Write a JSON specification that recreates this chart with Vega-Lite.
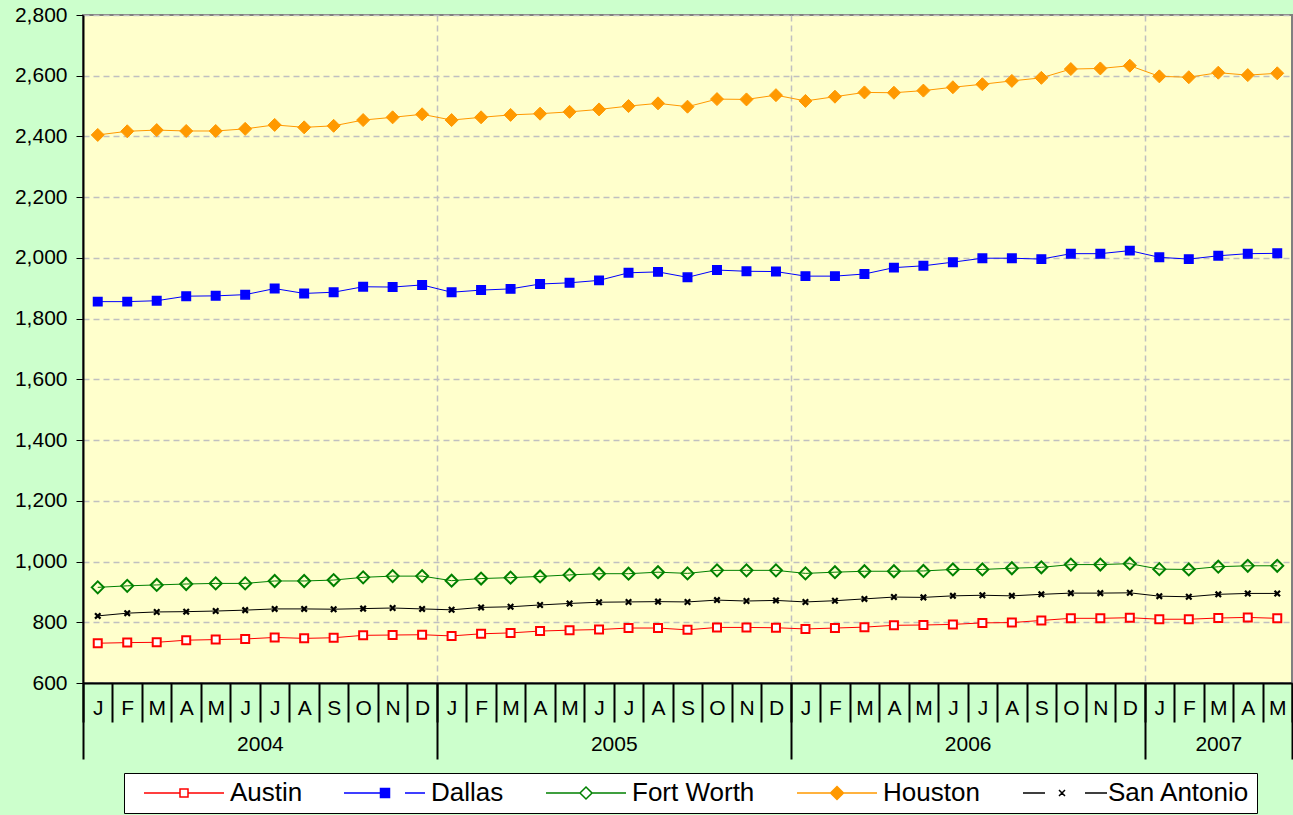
{
  "$schema": "https://vega.github.io/schema/vega-lite/v6.json",
  "width": 1209,
  "height": 668,
  "autosize": "none",
  "padding": {"left": 83, "top": 15, "right": 1, "bottom": 132},
  "background": "#CCFFCC",
  "config": {
    "font": "Liberation Sans",
    "view": {"fill": "#FFFFCC", "stroke": "#808080", "strokeWidth": 2},
    "axis": {"labelFont": "Liberation Sans", "labelFontSize": 21, "labelColor": "#000000"}
  },
  "data": {
    "values": [
      {"month":"2004-01","city":"Austin","value":731},{"month":"2004-02","city":"Austin","value":733},{"month":"2004-03","city":"Austin","value":734},{"month":"2004-04","city":"Austin","value":741},{"month":"2004-05","city":"Austin","value":743},{"month":"2004-06","city":"Austin","value":745},{"month":"2004-07","city":"Austin","value":750},{"month":"2004-08","city":"Austin","value":747},{"month":"2004-09","city":"Austin","value":749},{"month":"2004-10","city":"Austin","value":757},{"month":"2004-11","city":"Austin","value":758},{"month":"2004-12","city":"Austin","value":759},
      {"month":"2005-01","city":"Austin","value":755},{"month":"2005-02","city":"Austin","value":762},{"month":"2005-03","city":"Austin","value":765},{"month":"2005-04","city":"Austin","value":771},{"month":"2005-05","city":"Austin","value":774},{"month":"2005-06","city":"Austin","value":776},{"month":"2005-07","city":"Austin","value":781},{"month":"2005-08","city":"Austin","value":781},{"month":"2005-09","city":"Austin","value":775},{"month":"2005-10","city":"Austin","value":783},{"month":"2005-11","city":"Austin","value":783},{"month":"2005-12","city":"Austin","value":782},
      {"month":"2006-01","city":"Austin","value":778},{"month":"2006-02","city":"Austin","value":781},{"month":"2006-03","city":"Austin","value":784},{"month":"2006-04","city":"Austin","value":790},{"month":"2006-05","city":"Austin","value":791},{"month":"2006-06","city":"Austin","value":793},{"month":"2006-07","city":"Austin","value":798},{"month":"2006-08","city":"Austin","value":799},{"month":"2006-09","city":"Austin","value":806},{"month":"2006-10","city":"Austin","value":813},{"month":"2006-11","city":"Austin","value":813},{"month":"2006-12","city":"Austin","value":815},
      {"month":"2007-01","city":"Austin","value":810},{"month":"2007-02","city":"Austin","value":810},{"month":"2007-03","city":"Austin","value":814},{"month":"2007-04","city":"Austin","value":816},{"month":"2007-05","city":"Austin","value":813},
      {"month":"2004-01","city":"Dallas","value":1856},{"month":"2004-02","city":"Dallas","value":1856},{"month":"2004-03","city":"Dallas","value":1859},{"month":"2004-04","city":"Dallas","value":1874},{"month":"2004-05","city":"Dallas","value":1875},{"month":"2004-06","city":"Dallas","value":1879},{"month":"2004-07","city":"Dallas","value":1899},{"month":"2004-08","city":"Dallas","value":1883},{"month":"2004-09","city":"Dallas","value":1887},{"month":"2004-10","city":"Dallas","value":1905},{"month":"2004-11","city":"Dallas","value":1904},{"month":"2004-12","city":"Dallas","value":1911},
      {"month":"2005-01","city":"Dallas","value":1887},{"month":"2005-02","city":"Dallas","value":1894},{"month":"2005-03","city":"Dallas","value":1898},{"month":"2005-04","city":"Dallas","value":1914},{"month":"2005-05","city":"Dallas","value":1918},{"month":"2005-06","city":"Dallas","value":1926},{"month":"2005-07","city":"Dallas","value":1951},{"month":"2005-08","city":"Dallas","value":1954},{"month":"2005-09","city":"Dallas","value":1936},{"month":"2005-10","city":"Dallas","value":1960},{"month":"2005-11","city":"Dallas","value":1956},{"month":"2005-12","city":"Dallas","value":1955},
      {"month":"2006-01","city":"Dallas","value":1940},{"month":"2006-02","city":"Dallas","value":1940},{"month":"2006-03","city":"Dallas","value":1947},{"month":"2006-04","city":"Dallas","value":1968},{"month":"2006-05","city":"Dallas","value":1974},{"month":"2006-06","city":"Dallas","value":1986},{"month":"2006-07","city":"Dallas","value":1999},{"month":"2006-08","city":"Dallas","value":1999},{"month":"2006-09","city":"Dallas","value":1996},{"month":"2006-10","city":"Dallas","value":2014},{"month":"2006-11","city":"Dallas","value":2014},{"month":"2006-12","city":"Dallas","value":2024},
      {"month":"2007-01","city":"Dallas","value":2002},{"month":"2007-02","city":"Dallas","value":1996},{"month":"2007-03","city":"Dallas","value":2007},{"month":"2007-04","city":"Dallas","value":2014},{"month":"2007-05","city":"Dallas","value":2015},
      {"month":"2004-01","city":"Fort Worth","value":915},{"month":"2004-02","city":"Fort Worth","value":920},{"month":"2004-03","city":"Fort Worth","value":923},{"month":"2004-04","city":"Fort Worth","value":926},{"month":"2004-05","city":"Fort Worth","value":928},{"month":"2004-06","city":"Fort Worth","value":928},{"month":"2004-07","city":"Fort Worth","value":936},{"month":"2004-08","city":"Fort Worth","value":936},{"month":"2004-09","city":"Fort Worth","value":939},{"month":"2004-10","city":"Fort Worth","value":948},{"month":"2004-11","city":"Fort Worth","value":952},{"month":"2004-12","city":"Fort Worth","value":952},
      {"month":"2005-01","city":"Fort Worth","value":937},{"month":"2005-02","city":"Fort Worth","value":944},{"month":"2005-03","city":"Fort Worth","value":947},{"month":"2005-04","city":"Fort Worth","value":951},{"month":"2005-05","city":"Fort Worth","value":956},{"month":"2005-06","city":"Fort Worth","value":960},{"month":"2005-07","city":"Fort Worth","value":960},{"month":"2005-08","city":"Fort Worth","value":965},{"month":"2005-09","city":"Fort Worth","value":961},{"month":"2005-10","city":"Fort Worth","value":971},{"month":"2005-11","city":"Fort Worth","value":971},{"month":"2005-12","city":"Fort Worth","value":971},
      {"month":"2006-01","city":"Fort Worth","value":961},{"month":"2006-02","city":"Fort Worth","value":965},{"month":"2006-03","city":"Fort Worth","value":968},{"month":"2006-04","city":"Fort Worth","value":968},{"month":"2006-05","city":"Fort Worth","value":969},{"month":"2006-06","city":"Fort Worth","value":974},{"month":"2006-07","city":"Fort Worth","value":974},{"month":"2006-08","city":"Fort Worth","value":978},{"month":"2006-09","city":"Fort Worth","value":981},{"month":"2006-10","city":"Fort Worth","value":990},{"month":"2006-11","city":"Fort Worth","value":990},{"month":"2006-12","city":"Fort Worth","value":993},
      {"month":"2007-01","city":"Fort Worth","value":975},{"month":"2007-02","city":"Fort Worth","value":974},{"month":"2007-03","city":"Fort Worth","value":983},{"month":"2007-04","city":"Fort Worth","value":986},{"month":"2007-05","city":"Fort Worth","value":986},
      {"month":"2004-01","city":"Houston","value":2405},{"month":"2004-02","city":"Houston","value":2417},{"month":"2004-03","city":"Houston","value":2421},{"month":"2004-04","city":"Houston","value":2418},{"month":"2004-05","city":"Houston","value":2418},{"month":"2004-06","city":"Houston","value":2425},{"month":"2004-07","city":"Houston","value":2438},{"month":"2004-08","city":"Houston","value":2430},{"month":"2004-09","city":"Houston","value":2435},{"month":"2004-10","city":"Houston","value":2454},{"month":"2004-11","city":"Houston","value":2463},{"month":"2004-12","city":"Houston","value":2473},
      {"month":"2005-01","city":"Houston","value":2454},{"month":"2005-02","city":"Houston","value":2463},{"month":"2005-03","city":"Houston","value":2471},{"month":"2005-04","city":"Houston","value":2475},{"month":"2005-05","city":"Houston","value":2481},{"month":"2005-06","city":"Houston","value":2489},{"month":"2005-07","city":"Houston","value":2500},{"month":"2005-08","city":"Houston","value":2509},{"month":"2005-09","city":"Houston","value":2498},{"month":"2005-10","city":"Houston","value":2523},{"month":"2005-11","city":"Houston","value":2522},{"month":"2005-12","city":"Houston","value":2536},
      {"month":"2006-01","city":"Houston","value":2517},{"month":"2006-02","city":"Houston","value":2531},{"month":"2006-03","city":"Houston","value":2545},{"month":"2006-04","city":"Houston","value":2544},{"month":"2006-05","city":"Houston","value":2551},{"month":"2006-06","city":"Houston","value":2562},{"month":"2006-07","city":"Houston","value":2572},{"month":"2006-08","city":"Houston","value":2583},{"month":"2006-09","city":"Houston","value":2593},{"month":"2006-10","city":"Houston","value":2622},{"month":"2006-11","city":"Houston","value":2624},{"month":"2006-12","city":"Houston","value":2633},
      {"month":"2007-01","city":"Houston","value":2598},{"month":"2007-02","city":"Houston","value":2595},{"month":"2007-03","city":"Houston","value":2610},{"month":"2007-04","city":"Houston","value":2602},{"month":"2007-05","city":"Houston","value":2608},
      {"month":"2004-01","city":"San Antonio","value":821},{"month":"2004-02","city":"San Antonio","value":830},{"month":"2004-03","city":"San Antonio","value":834},{"month":"2004-04","city":"San Antonio","value":835},{"month":"2004-05","city":"San Antonio","value":837},{"month":"2004-06","city":"San Antonio","value":840},{"month":"2004-07","city":"San Antonio","value":844},{"month":"2004-08","city":"San Antonio","value":844},{"month":"2004-09","city":"San Antonio","value":843},{"month":"2004-10","city":"San Antonio","value":845},{"month":"2004-11","city":"San Antonio","value":847},{"month":"2004-12","city":"San Antonio","value":844},
      {"month":"2005-01","city":"San Antonio","value":841},{"month":"2005-02","city":"San Antonio","value":849},{"month":"2005-03","city":"San Antonio","value":851},{"month":"2005-04","city":"San Antonio","value":857},{"month":"2005-05","city":"San Antonio","value":862},{"month":"2005-06","city":"San Antonio","value":866},{"month":"2005-07","city":"San Antonio","value":867},{"month":"2005-08","city":"San Antonio","value":868},{"month":"2005-09","city":"San Antonio","value":867},{"month":"2005-10","city":"San Antonio","value":873},{"month":"2005-11","city":"San Antonio","value":870},{"month":"2005-12","city":"San Antonio","value":872},
      {"month":"2006-01","city":"San Antonio","value":867},{"month":"2006-02","city":"San Antonio","value":871},{"month":"2006-03","city":"San Antonio","value":877},{"month":"2006-04","city":"San Antonio","value":883},{"month":"2006-05","city":"San Antonio","value":882},{"month":"2006-06","city":"San Antonio","value":887},{"month":"2006-07","city":"San Antonio","value":889},{"month":"2006-08","city":"San Antonio","value":887},{"month":"2006-09","city":"San Antonio","value":892},{"month":"2006-10","city":"San Antonio","value":896},{"month":"2006-11","city":"San Antonio","value":896},{"month":"2006-12","city":"San Antonio","value":897},
      {"month":"2007-01","city":"San Antonio","value":886},{"month":"2007-02","city":"San Antonio","value":884},{"month":"2007-03","city":"San Antonio","value":892},{"month":"2007-04","city":"San Antonio","value":895},{"month":"2007-05","city":"San Antonio","value":895}
    ]
  },
  "encoding": {
    "x": {"field": "month", "type": "ordinal", "bandPosition": 0.5, "scale": {"type": "band", "paddingInner": 0, "paddingOuter": 0}, "axis": null},
    "y": {"field": "value", "type": "quantitative",
      "scale": {"domain": [600, 2800], "nice": false, "zero": false},
      "axis": {"title": null, "values": [600, 800, 1000, 1200, 1400, 1600, 1800, 2000, 2200, 2400, 2600, 2800], "format": ",.0f",
        "tickSize": 7, "tickColor": "#000000", "tickWidth": 1, "domainColor": "#000000", "domainWidth": 2,
        "labelPadding": 9, "grid": true, "gridColor": "#C0C0C0", "gridDash": [6, 4], "gridWidth": 1.5}}
  },
  "layer": [
    {
      "transform": [{"filter": "datum.city == 'Austin'"}],
      "mark": {"type": "line", "strokeWidth": 1, "stroke": "#FF0000"},
      "encoding": {
        "x": {"field": "month", "type": "ordinal", "bandPosition": 0.5,
          "scale": {"type": "band", "paddingInner": 0, "paddingOuter": 0},
          "axis": {"title": null, "orient": "bottom", "tickBand": "extent", "tickSize": 39, "tickColor": "#000000", "tickWidth": 2,
            "domain": true, "domainColor": "#000000", "domainWidth": 2, "grid": false, "labelAngle": 0,
            "labelBaseline": "middle", "labelPadding": -14, "labelOverlap": false,
            "labelExpr": "substring('JFMAMJJASOND', toNumber(substring(datum.value,5,7)) - 1, toNumber(substring(datum.value,5,7)))"}}
      }
    },
    {
      "transform": [{"filter": "datum.city == 'Austin'"}],
      "mark": {"type": "point", "shape": "square", "size": 64, "filled": true, "fill": "#FFFFFF", "stroke": "#FF0000", "strokeWidth": 2, "opacity": 1},
      "encoding": {
        "x": {"field": "month", "type": "ordinal", "bandPosition": 0.5,
          "scale": {"type": "band", "paddingInner": 0, "paddingOuter": 0},
          "axis": {"title": null, "orient": "bottom", "tickBand": "extent", "domain": false, "labelAngle": 0,
            "tickColor": "#000000", "tickWidth": 2,
            "tickSize": {"condition": {"test": "datum.index < 0 || substring(datum.value,5,7) == '12' || datum.value == '2007-05'", "value": 76}, "value": 0},
            "grid": true, "gridColor": "#C0C0C0", "gridDash": [6, 4], "gridWidth": 1.5,
            "gridOpacity": {"condition": {"test": "substring(datum.value,5,7) == '12'", "value": 1}, "value": 0},
            "labelBaseline": "middle", "labelPadding": 61, "labelOverlap": false,
            "labelOffset": {"condition": {"test": "datum.value == '2007-03'", "value": 0}, "value": 14.744},
            "labelExpr": "datum.value == '2004-06' ? '2004' : datum.value == '2005-06' ? '2005' : datum.value == '2006-06' ? '2006' : datum.value == '2007-03' ? '2007' : ''"}}
      }
    },
    {
      "transform": [{"filter": "datum.city == 'Dallas'"}],
      "mark": {"type": "line", "strokeWidth": 1, "stroke": "#0000FF"}
    },
    {
      "transform": [{"filter": "datum.city == 'Dallas'"}],
      "mark": {"type": "point", "shape": "square", "size": 72, "filled": true, "fill": "#0000FF", "stroke": "#0000FF", "strokeWidth": 1.5, "opacity": 1}
    },
    {
      "transform": [{"filter": "datum.city == 'Fort Worth'"}],
      "mark": {"type": "line", "strokeWidth": 1, "stroke": "#008000"}
    },
    {
      "transform": [{"filter": "datum.city == 'Fort Worth'"}],
      "mark": {"type": "point", "shape": "diamond", "size": 144, "filled": false, "stroke": "#008000", "strokeWidth": 2, "opacity": 1}
    },
    {
      "transform": [{"filter": "datum.city == 'Houston'"}],
      "mark": {"type": "line", "strokeWidth": 1, "stroke": "#FF9900"}
    },
    {
      "transform": [{"filter": "datum.city == 'Houston'"}],
      "mark": {"type": "point", "shape": "diamond", "size": 169, "filled": true, "fill": "#FF9900", "stroke": "#FF9900", "strokeWidth": 1, "opacity": 1}
    },
    {
      "transform": [{"filter": "datum.city == 'San Antonio'"}],
      "mark": {"type": "line", "strokeWidth": 1, "stroke": "#000000"}
    },
    {
      "transform": [{"filter": "datum.city == 'San Antonio'"}],
      "mark": {"type": "point", "shape": "M-1,-1L1,1M-1,1L1,-1", "size": 30, "filled": false, "stroke": "#000000", "strokeWidth": 2.2, "opacity": 1}
    },
    {
      "mark": {"type": "point", "filled": false, "opacity": 0},
      "encoding": {
        "shape": {"field": "city", "type": "nominal",
          "scale": {"domain": ["Austin", "Dallas", "Fort Worth", "Houston", "San Antonio"],
            "range": [
              "M-8,0H-0.8M0.8,0H8M-0.8,-0.8H0.8V0.8H-0.8Z",
              "M-8.2,0H0.9M4,0H8M-0.9,-0.9H0.9V0.9H-0.9ZM-0.9,-0.6H0.9M-0.9,-0.3H0.9M-0.9,0.3H0.9M-0.9,0.6H0.9",
              "M-8,0H-1.2M1.2,0H8M0,-1.2L1.2,0L0,1.2L-1.2,0Z",
              "M-8,0H8M0,-1.3L1.3,0L0,1.3L-1.3,0ZM-1,-0.3H1M-0.7,-0.6H0.7M-0.4,-0.9H0.4M-1,0.3H1M-0.7,0.6H0.7M-0.4,0.9H0.4",
              "M-7.8,0H-3.4M4.6,0H9M-0.6,-0.6L0.6,0.6M-0.6,0.6L0.6,-0.6"]},
          "legend": {"title": null, "orient": "none", "legendX": 41, "legendY": 758, "direction": "horizontal", "fillColor": "#FFFFFF", "strokeColor": "#000000", "padding": 7, "labelFontSize": 26, "labelFont": "Liberation Sans", "labelColor": "#000000", "symbolSize": 100, "symbolStrokeWidth": 1.5, "symbolOffset": 40, "labelOffset": 33, "columnPadding": 29}},
        "stroke": {"field": "city", "type": "nominal",
          "scale": {"domain": ["Austin", "Dallas", "Fort Worth", "Houston", "San Antonio"], "range": ["#FF0000", "#0000FF", "#008000", "#FF9900", "#000000"]},
          "legend": {"title": null, "orient": "none", "legendX": 41, "legendY": 758, "direction": "horizontal", "fillColor": "#FFFFFF", "strokeColor": "#000000", "padding": 7, "labelFontSize": 26, "labelFont": "Liberation Sans", "labelColor": "#000000", "symbolSize": 100, "symbolStrokeWidth": 1.5, "symbolOffset": 40, "labelOffset": 33, "columnPadding": 29}}
      }
    }
  ],
  "resolve": {"axis": {"x": "independent"}}
}
